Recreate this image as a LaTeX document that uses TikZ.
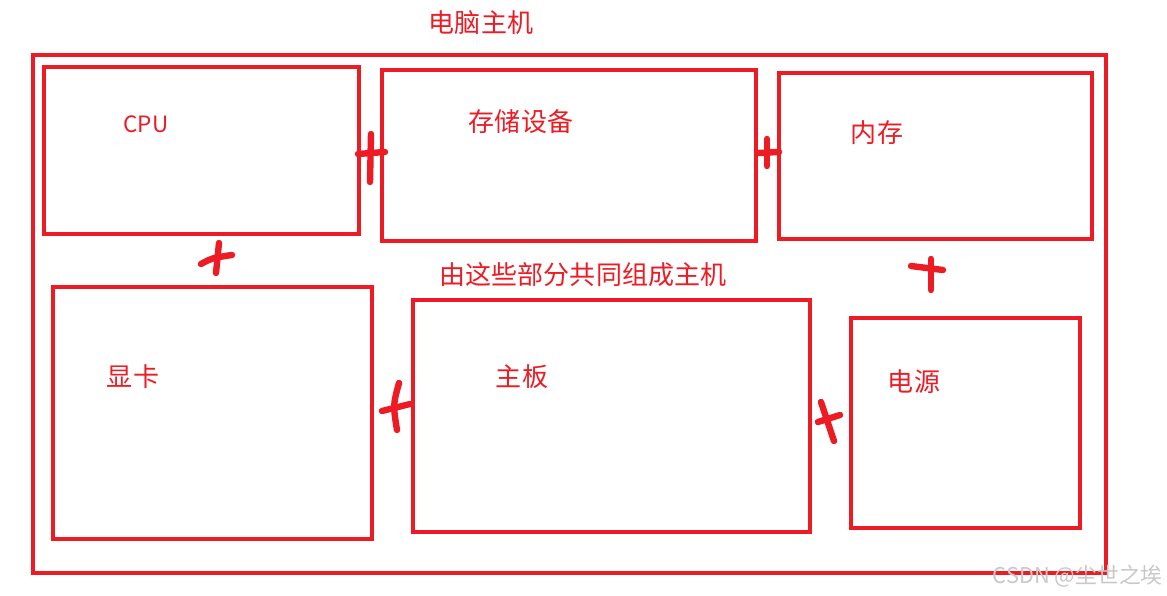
\documentclass[tikz,border=0pt]{standalone}
\usepackage{fontspec}
\usepackage{xcolor}
\usepackage{tikz}
\usetikzlibrary{fit, calc}
\newfontfamily\cjk{Noto Sans CJK SC}
\definecolor{paintred}{RGB}{237,28,36}
\definecolor{markgray}{RGB}{200,200,200}

\begin{document}
\begin{tikzpicture}[
            x=0.025cm, y=-0.025cm,
            box/.style={rectangle, draw=paintred, line width=0.085cm, inner sep=0pt},
            label/.style={text=paintred, font=\cjk\fontsize{18.5pt}{22pt}\selectfont, inner sep=0pt},
            latin/.style={text=paintred, font=\cjk\fontsize{16pt}{18pt}\selectfont, inner sep=0pt},
            plusmark/.style={draw=paintred, line width=0.16cm, line cap=round},
            watermark/.style={text=markgray, font=\cjk\fontsize{15.5pt}{18pt}\selectfont, inner sep=0pt}
        ]
            \useasboundingbox (0,0) rectangle (1167,596);

% Boxes
            \node[box, fit={(33,55) (1106,573)}] (host) {};
            \node[box, fit={(44,67) (359,234)}] (cpu) {};
            \node[box, fit={(382,70) (756,241)}] (storage) {};
            \node[box, fit={(779,73) (1092,239)}] (memory) {};
            \node[box, fit={(53,287) (372,539)}] (gpu) {};
            \node[box, fit={(413,300) (810,532)}] (board) {};
            \node[box, fit={(851,318) (1080,528)}] (power) {};

% Labels
            \node[label] (hostlbl) at (481,23) {电脑主机};
            \node[latin] (cpulbl) at (146,124) {CPU};
            \node[label] (storagelbl) at (521,122) {存储设备};
            \node[label] (memorylbl) at (877,133) {内存};
            \node[label] (partslbl) at (583,275) {由这些部分共同组成主机};
            \node[label] (gpulbl) at (133,377) {显卡};
            \node[label] (boardlbl) at (522,377) {主板};
            \node[label] (powerlbl) at (914,382) {电源};
            \node[watermark, anchor=east] (mark) at (1163,576) {CSDN @尘世之埃};

% Plus marks
            \draw[plusmark] (371,134) -- (370,182);
            \draw[plusmark] (358,154) -- (385,152);
            \draw[plusmark] (767,139) -- (767,166);
            \draw[plusmark] (758,153) -- (779,152);
            \draw[plusmark] (219,243) -- (216,273);
            \draw[plusmark] (201,264) .. controls (212,258) .. (232,255);
            \draw[plusmark] (931,259) -- (931,290);
            \draw[plusmark] (911,266) -- (943,270);
            \draw[plusmark] (399,383) .. controls (393,405) .. (397,430);
            \draw[plusmark] (382,411) -- (410,404);
            \draw[plusmark] (821,402) .. controls (828,422) .. (834,441);
            \draw[plusmark] (818,422) -- (840,415);

        \end{tikzpicture}
\end{document}
